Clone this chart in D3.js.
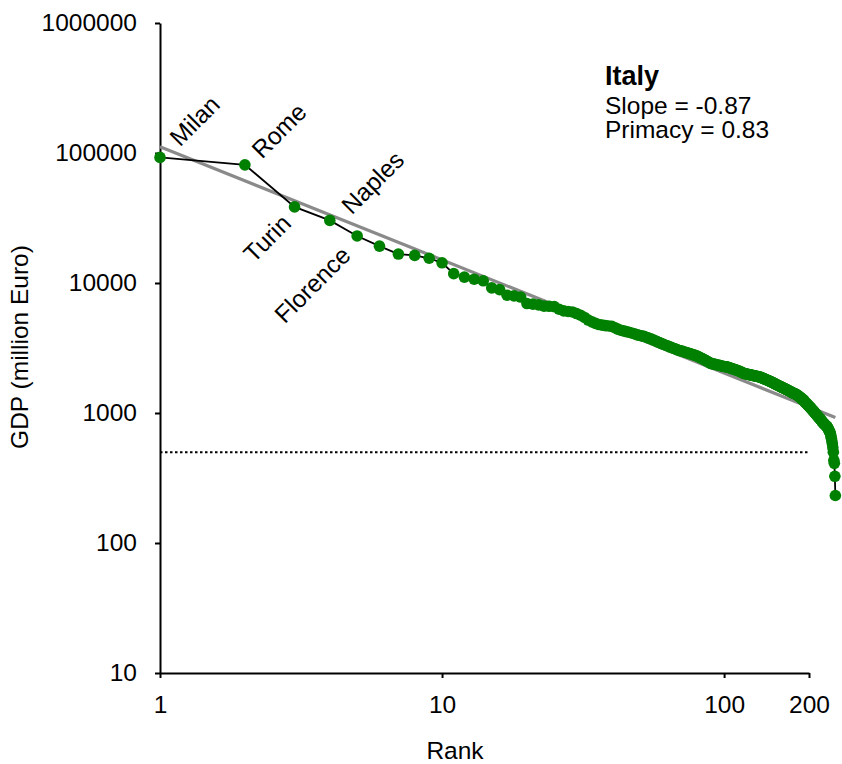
<!DOCTYPE html>
<meta charset="utf-8">
<title>Italy - GDP by rank</title>
<style type="text/css">
body {
  margin: 0;
  background: #fff;
  font-family: "Liberation Sans", Arial, sans-serif;
}
.axis path,
.axis line {
  fill: none;
  stroke: #000;
  stroke-width: 2px;
}
.axis text {
  font-family: "Liberation Sans", Arial, sans-serif;
  font-size: 24.5px;
  fill: #000;
}
</style>
<body>
<script src="https://cdn.jsdelivr.net/npm/d3@7"></script>
<script>
var width = 842;
var height = 764;

// data
var rankTicks = [1, 10, 100, 200];
var gdpTicks = [10, 100, 1000, 10000, 100000, 1000000];
var cities = ["Milan", "Rome", "Turin", "Naples", "Florence"];
var cityRanks = [1, 2, 3, 4, 5];
var fitSlope = -0.87;
var fitIntercept = 111700;
var primacy = 0.83;
var threshold = 500;
var thresholdRanks = [1, 200];
// GDP (million Euro), rank 1..248
var gdp = [
  92500, 81100, 38500, 30300, 23000, 19200, 16700, 16300, 15500, 14300,
  11800, 11100, 10700, 10400, 9170, 8900, 8050, 7960, 7800, 6950,
  6880, 6790, 6640, 6620, 6580, 6280, 6100, 6040, 5990, 5820,
  5650, 5430, 5190, 5020, 4890, 4790, 4740, 4700, 4670, 4640,
  4530, 4420, 4330, 4280, 4230, 4180, 4130, 4070, 4010, 3960,
  3920, 3890, 3830, 3770, 3720, 3650, 3600, 3530, 3480, 3420,
  3380, 3320, 3290, 3230, 3200, 3150, 3120, 3070, 3040, 3010,
  2990, 2960, 2930, 2910, 2880, 2850, 2830, 2800, 2780, 2750,
  2710, 2680, 2640, 2610, 2570, 2540, 2500, 2470, 2430, 2400,
  2390, 2380, 2365, 2350, 2340, 2330, 2315, 2300, 2290, 2280,
  2270, 2265, 2255, 2240, 2220, 2205, 2190, 2175, 2160, 2145,
  2130, 2115, 2100, 2080, 2065, 2045, 2030, 2010, 2005, 1995,
  1990, 1980, 1970, 1965, 1955, 1950, 1940, 1935, 1925, 1920,
  1910, 1905, 1900, 1890, 1880, 1865, 1855, 1840, 1830, 1820,
  1805, 1795, 1780, 1770, 1760, 1745, 1735, 1720, 1710, 1700,
  1685, 1670, 1660, 1645, 1635, 1625, 1615, 1600, 1590, 1580,
  1570, 1560, 1550, 1540, 1530, 1520, 1510, 1500, 1490, 1480,
  1470, 1460, 1450, 1440, 1430, 1420, 1415, 1410, 1400, 1390,
  1380, 1370, 1355, 1345, 1330, 1320, 1310, 1295, 1280, 1270,
  1260, 1245, 1220, 1205, 1195, 1180, 1170, 1155, 1140, 1130,
  1115, 1105, 1090, 1075, 1065, 1050, 1040, 1025, 1015, 1000,
  990, 975, 965, 955, 940, 930, 920, 910, 900, 890,
  880, 865, 855, 845, 835, 828, 820, 812, 805, 797,
  790, 783, 770, 755, 740, 725, 712, 698, 670, 640,
  610, 580, 540, 500, 432, 410, 326, 232
];

var points = gdp.map(function(v, i) { return {rank: i + 1, value: v}; });

var svg = d3.select("body").append("svg")
  .attr("width", width)
  .attr("height", height);

var x = d3.scaleLog().domain([1, 200]).range([160, 809]);
var y = d3.scaleLog().domain([10, 1000000]).range([673, 23]);

// axes
svg.append("g")
  .attr("class", "axis")
  .attr("transform", "translate(0,673)")
  .call(d3.axisBottom(x).tickValues(rankTicks).tickFormat(d3.format("d"))
    .tickSize(5).tickSizeOuter(0).tickPadding(18));

svg.append("g")
  .attr("class", "axis")
  .attr("transform", "translate(160,0)")
  .call(d3.axisLeft(y).tickValues(gdpTicks).tickFormat(d3.format("d"))
    .tickSize(5).tickSizeOuter(0).tickPadding(18));

svg.append("text")
  .attr("x", 455)
  .attr("y", 759)
  .attr("text-anchor", "middle")
  .style("font-size", "24.5px")
  .text("Rank");

svg.append("text")
  .attr("transform", "translate(28,347) rotate(-90)")
  .attr("text-anchor", "middle")
  .style("font-size", "24.5px")
  .text("GDP (million Euro)");

// threshold
svg.append("line")
  .attr("x1", x(thresholdRanks[0]))
  .attr("x2", x(thresholdRanks[1]))
  .attr("y1", y(threshold))
  .attr("y2", y(threshold))
  .attr("stroke", "#000")
  .attr("stroke-width", 2)
  .attr("stroke-dasharray", "2.5,2.5");

// fitted power law
var fitLine = [1, gdp.length].map(function(r) {
  return {rank: r, value: fitIntercept * Math.pow(r, fitSlope)};
});
var line = d3.line()
  .x(function(d) { return x(d.rank); })
  .y(function(d) { return y(d.value); });

svg.append("path")
  .datum(fitLine)
  .attr("d", line)
  .attr("fill", "none")
  .attr("stroke", "#8a8a8a")
  .attr("stroke-width", 3.2);

svg.append("path")
  .datum(points)
  .attr("d", line)
  .attr("fill", "none")
  .attr("stroke", "#000")
  .attr("stroke-width", 1.8);

svg.selectAll(".dot")
  .data(points)
  .enter()
  .append("circle")
  .attr("class", "dot")
  .attr("cx", function(d) { return x(d.rank); })
  .attr("cy", function(d) { return y(d.value); })
  .attr("r", 5.8)
  .attr("fill", "#008000");

// city labels, offset from their dot
var labelLayout = [
  {dx: 20, dy: -10, anchor: "start"},
  {dx: 17, dy: -5, anchor: "start"},
  {dx: -2, dy: 18, anchor: "end"},
  {dx: 22, dy: -5, anchor: "start"},
  {dx: -5, dy: 21, anchor: "end"}
];
cities.forEach(function(name, i) {
  var r = cityRanks[i];
  var lx = x(r) + labelLayout[i].dx;
  var ly = y(gdp[r - 1]) + labelLayout[i].dy;
  svg.append("text")
    .attr("transform", "translate(" + lx + "," + ly + ") rotate(-45)")
    .attr("text-anchor", labelLayout[i].anchor)
    .style("font-size", "24.5px")
    .text(name);
});

// country box
svg.append("text")
  .attr("x", 605)
  .attr("y", 85)
  .style("font-size", "27px")
  .style("font-weight", "bold")
  .text("Italy");
svg.append("text")
  .attr("x", 605)
  .attr("y", 114)
  .style("font-size", "24.5px")
  .text("Slope = " + fitSlope.toFixed(2));
svg.append("text")
  .attr("x", 605)
  .attr("y", 138)
  .style("font-size", "24.5px")
  .text("Primacy = " + primacy.toFixed(2));
</script>
</body>
</html>
